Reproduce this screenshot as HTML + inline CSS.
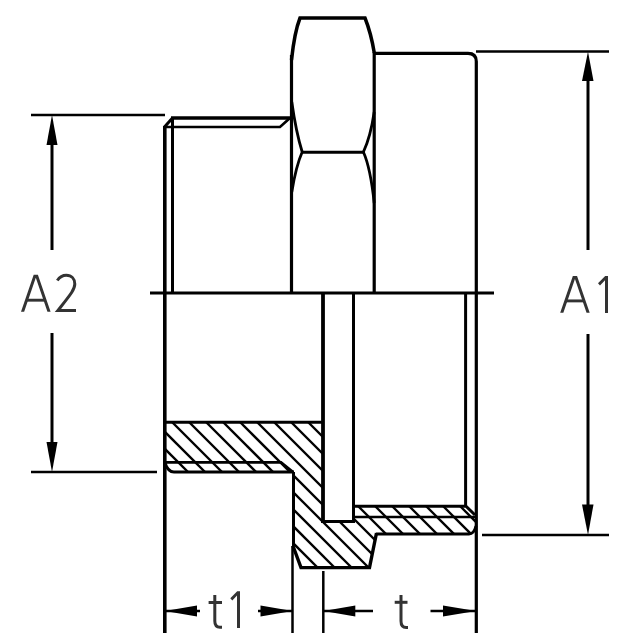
<!DOCTYPE html>
<html><head><meta charset="utf-8"><style>
html,body{margin:0;padding:0;background:#fff;width:640px;height:640px;overflow:hidden;font-family:"Liberation Sans",sans-serif;}
svg{display:block;}
</style></head><body>
<svg width="640" height="640" viewBox="0 0 640 640">
<rect width="640" height="640" fill="#fff"/>
<clipPath id="hc"><path d="M165,422 L323,422 L323,521.5 L354,521.5 L354,506 L466,506 L476,515 L476,526 L470,534 L376,534 L369.5,567.6 L301,567.6 L293,546 L293,472 L173.5,472 L165,463 Z"/></clipPath>
<g clip-path="url(#hc)" stroke="#000" stroke-width="2.3"><line x1="150" y1="451.0" x2="500" y2="801.0"/><line x1="150" y1="434.0" x2="500" y2="784.0"/><line x1="150" y1="417.0" x2="500" y2="767.0"/><line x1="150" y1="400.0" x2="500" y2="750.0"/><line x1="150" y1="383.0" x2="500" y2="733.0"/><line x1="150" y1="366.0" x2="500" y2="716.0"/><line x1="150" y1="349.0" x2="500" y2="699.0"/><line x1="150" y1="332.0" x2="500" y2="682.0"/><line x1="150" y1="315.0" x2="500" y2="665.0"/><line x1="150" y1="298.0" x2="500" y2="648.0"/><line x1="150" y1="281.0" x2="500" y2="631.0"/><line x1="150" y1="264.0" x2="500" y2="614.0"/><line x1="150" y1="247.0" x2="500" y2="597.0"/><line x1="150" y1="230.0" x2="500" y2="580.0"/><line x1="150" y1="213.0" x2="500" y2="563.0"/><line x1="150" y1="196.0" x2="500" y2="546.0"/></g>
<line x1="31" y1="115" x2="165" y2="115" stroke="#000" stroke-width="2.5" stroke-linecap="butt"/>
<line x1="31" y1="472" x2="157" y2="472" stroke="#000" stroke-width="2.5" stroke-linecap="butt"/>
<line x1="52" y1="140" x2="52" y2="250" stroke="#000" stroke-width="3" stroke-linecap="butt"/>
<line x1="52" y1="333" x2="52" y2="447" stroke="#000" stroke-width="3" stroke-linecap="butt"/>
<path d="M52,115 L46.5,145 L57.5,145 Z" fill="#000"/>
<path d="M52,472 L46.5,442 L57.5,442 Z" fill="#000"/>
<line x1="476" y1="51.5" x2="609" y2="51.5" stroke="#000" stroke-width="2.5" stroke-linecap="butt"/>
<line x1="482" y1="535" x2="609" y2="535" stroke="#000" stroke-width="2.5" stroke-linecap="butt"/>
<line x1="588" y1="75" x2="588" y2="250" stroke="#000" stroke-width="3" stroke-linecap="butt"/>
<line x1="588" y1="334" x2="588" y2="510" stroke="#000" stroke-width="3" stroke-linecap="butt"/>
<path d="M588,51.5 L582,81 L593.5,81 Z" fill="#000"/>
<path d="M588,535 L582,504.5 L593.5,504.5 Z" fill="#000"/>
<line x1="150" y1="293" x2="494" y2="293" stroke="#000" stroke-width="3" stroke-linecap="butt"/>
<line x1="164.8" y1="126" x2="164.8" y2="633" stroke="#000" stroke-width="3.6" stroke-linecap="butt"/>
<line x1="172.5" y1="118" x2="172.5" y2="293" stroke="#000" stroke-width="3" stroke-linecap="butt"/>
<line x1="171" y1="118" x2="291" y2="118" stroke="#000" stroke-width="3.5" stroke-linecap="butt"/>
<path d="M164,127 L280,127 L290,118" stroke="#000" stroke-width="2.6" fill="none" stroke-linejoin="miter" stroke-linecap="butt"/>
<path d="M164,127.5 L172.5,118" stroke="#000" stroke-width="3" fill="none" stroke-linejoin="miter" stroke-linecap="butt"/>
<path d="M291.5,60 Q294.5,32 300,18 L365,18 Q371,33 374.3,53" stroke="#000" stroke-width="3.5" fill="none" stroke-linejoin="miter" stroke-linecap="butt"/>
<line x1="291.5" y1="55" x2="291.5" y2="293" stroke="#000" stroke-width="3.2" stroke-linecap="butt"/>
<line x1="374.2" y1="52" x2="374.2" y2="293" stroke="#000" stroke-width="3.2" stroke-linecap="butt"/>
<path d="M291.8,102 Q296,132 302.2,152 Q296,166 291.8,192" stroke="#000" stroke-width="2.8" fill="none" stroke-linejoin="miter" stroke-linecap="butt"/>
<path d="M374.2,112 Q370.5,137 363.4,152 Q370.5,168 374.2,203" stroke="#000" stroke-width="2.8" fill="none" stroke-linejoin="miter" stroke-linecap="butt"/>
<line x1="302" y1="152.2" x2="363.4" y2="152.2" stroke="#000" stroke-width="3" stroke-linecap="butt"/>
<path d="M374,53.4 L468,53.4 Q476.3,53.4 476.3,61.5 L476.3,633" stroke="#000" stroke-width="3.2" fill="none" stroke-linejoin="miter" stroke-linecap="butt"/>
<line x1="465.6" y1="293" x2="465.6" y2="506.5" stroke="#000" stroke-width="3" stroke-linecap="butt"/>
<line x1="165" y1="422.3" x2="323" y2="422.3" stroke="#000" stroke-width="3" stroke-linecap="butt"/>
<line x1="323" y1="293" x2="323" y2="523" stroke="#000" stroke-width="3.8" stroke-linecap="butt"/>
<line x1="321" y1="521.5" x2="355" y2="521.5" stroke="#000" stroke-width="3" stroke-linecap="butt"/>
<line x1="353.5" y1="293" x2="353.5" y2="523" stroke="#000" stroke-width="3" stroke-linecap="butt"/>
<path d="M353,506.2 L466,506.2 L475,515" stroke="#000" stroke-width="3" fill="none" stroke-linejoin="miter" stroke-linecap="butt"/>
<line x1="353" y1="517" x2="476" y2="517" stroke="#000" stroke-width="2.6" stroke-linecap="butt"/>
<path d="M376,534 L469,534 Q474,534 476,526" stroke="#000" stroke-width="3" fill="none" stroke-linejoin="miter" stroke-linecap="butt"/>
<path d="M376.5,533 L369.5,567.6 L301,567.6 L293,546" stroke="#000" stroke-width="3.4" fill="none" stroke-linejoin="miter" stroke-linecap="butt"/>
<line x1="293.5" y1="472" x2="293.5" y2="546" stroke="#000" stroke-width="3" stroke-linecap="butt"/>
<line x1="292.5" y1="546" x2="292.5" y2="633" stroke="#000" stroke-width="2.5" stroke-linecap="butt"/>
<line x1="323.3" y1="571" x2="323.3" y2="633" stroke="#000" stroke-width="2.5" stroke-linecap="butt"/>
<path d="M165,462.3 L281,462.3 L293,472" stroke="#000" stroke-width="2.8" fill="none" stroke-linejoin="miter" stroke-linecap="butt"/>
<path d="M165,463 Q168,472 174,472 L294,472" stroke="#000" stroke-width="3" fill="none" stroke-linejoin="miter" stroke-linecap="butt"/>
<line x1="165" y1="611" x2="200" y2="611" stroke="#000" stroke-width="2.5" stroke-linecap="butt"/>
<path d="M165,611 L197,605.5 L197,616.5 Z" fill="#000"/>
<line x1="258" y1="611" x2="293" y2="611" stroke="#000" stroke-width="2.5" stroke-linecap="butt"/>
<path d="M292.5,611 L260.5,605.5 L260.5,616.5 Z" fill="#000"/>
<line x1="323" y1="611" x2="373" y2="611" stroke="#000" stroke-width="2.5" stroke-linecap="butt"/>
<path d="M323.5,611 L355.3,605.5 L355.3,616.5 Z" fill="#000"/>
<line x1="430.5" y1="611" x2="476" y2="611" stroke="#000" stroke-width="2.5" stroke-linecap="butt"/>
<path d="M476,611 L443,605.5 L443,616.5 Z" fill="#000"/>
<path d="M21.00,311.8 L33.70,274.8 L37.90,274.8 L50.60,311.8 L47.45,311.8 L35.80,277.86 L24.15,311.8 Z" fill="#333"/>
<path d="M25.98,298.75 L45.62,298.75 L45.62,301.65 L25.98,301.65 Z" fill="#333"/>
<path d="M57.3,280.5 C60,276.5 63,275.3 66.3,275.3 C71.6,275.3 74.8,279 74.8,284 C74.8,289.5 70.5,294.5 57.8,310.6 L76,310.6" stroke="#333" stroke-width="3.0" fill="none" stroke-linejoin="miter" stroke-linecap="butt"/>
<path d="M560.20,312.8 L572.85,275.9 L577.05,275.9 L589.70,312.8 L586.55,312.8 L574.95,278.96 L563.35,312.8 Z" fill="#333"/>
<path d="M565.28,299.45 L584.62,299.45 L584.62,302.34999999999997 L565.28,302.34999999999997 Z" fill="#333"/>
<path d="M608,276 L608,313 L605,313 L605,280.3 L600,285.4 L598,283.2 L605.2,276 Z" fill="#333"/>
<path d="M214.8,595 L214.8,621 Q214.8,627.3 220,627.3 L222,627.3" stroke="#333" stroke-width="3.0" fill="none" stroke-linejoin="miter" stroke-linecap="butt"/>
<line x1="208.6" y1="602.5" x2="222" y2="602.5" stroke="#333" stroke-width="3.0" stroke-linecap="butt"/>
<path d="M240,591.2 L240,628 L237,628 L237,595.6 L232.3,600.4 L230.3,598.2 L237.2,591.2 Z" fill="#333"/>
<path d="M401,595 L401,621 Q401,627.5 406.2,627.5 L408,627.5" stroke="#333" stroke-width="3.0" fill="none" stroke-linejoin="miter" stroke-linecap="butt"/>
<line x1="394.7" y1="602.3" x2="407.5" y2="602.3" stroke="#333" stroke-width="3.0" stroke-linecap="butt"/>
</svg>
</body></html>
